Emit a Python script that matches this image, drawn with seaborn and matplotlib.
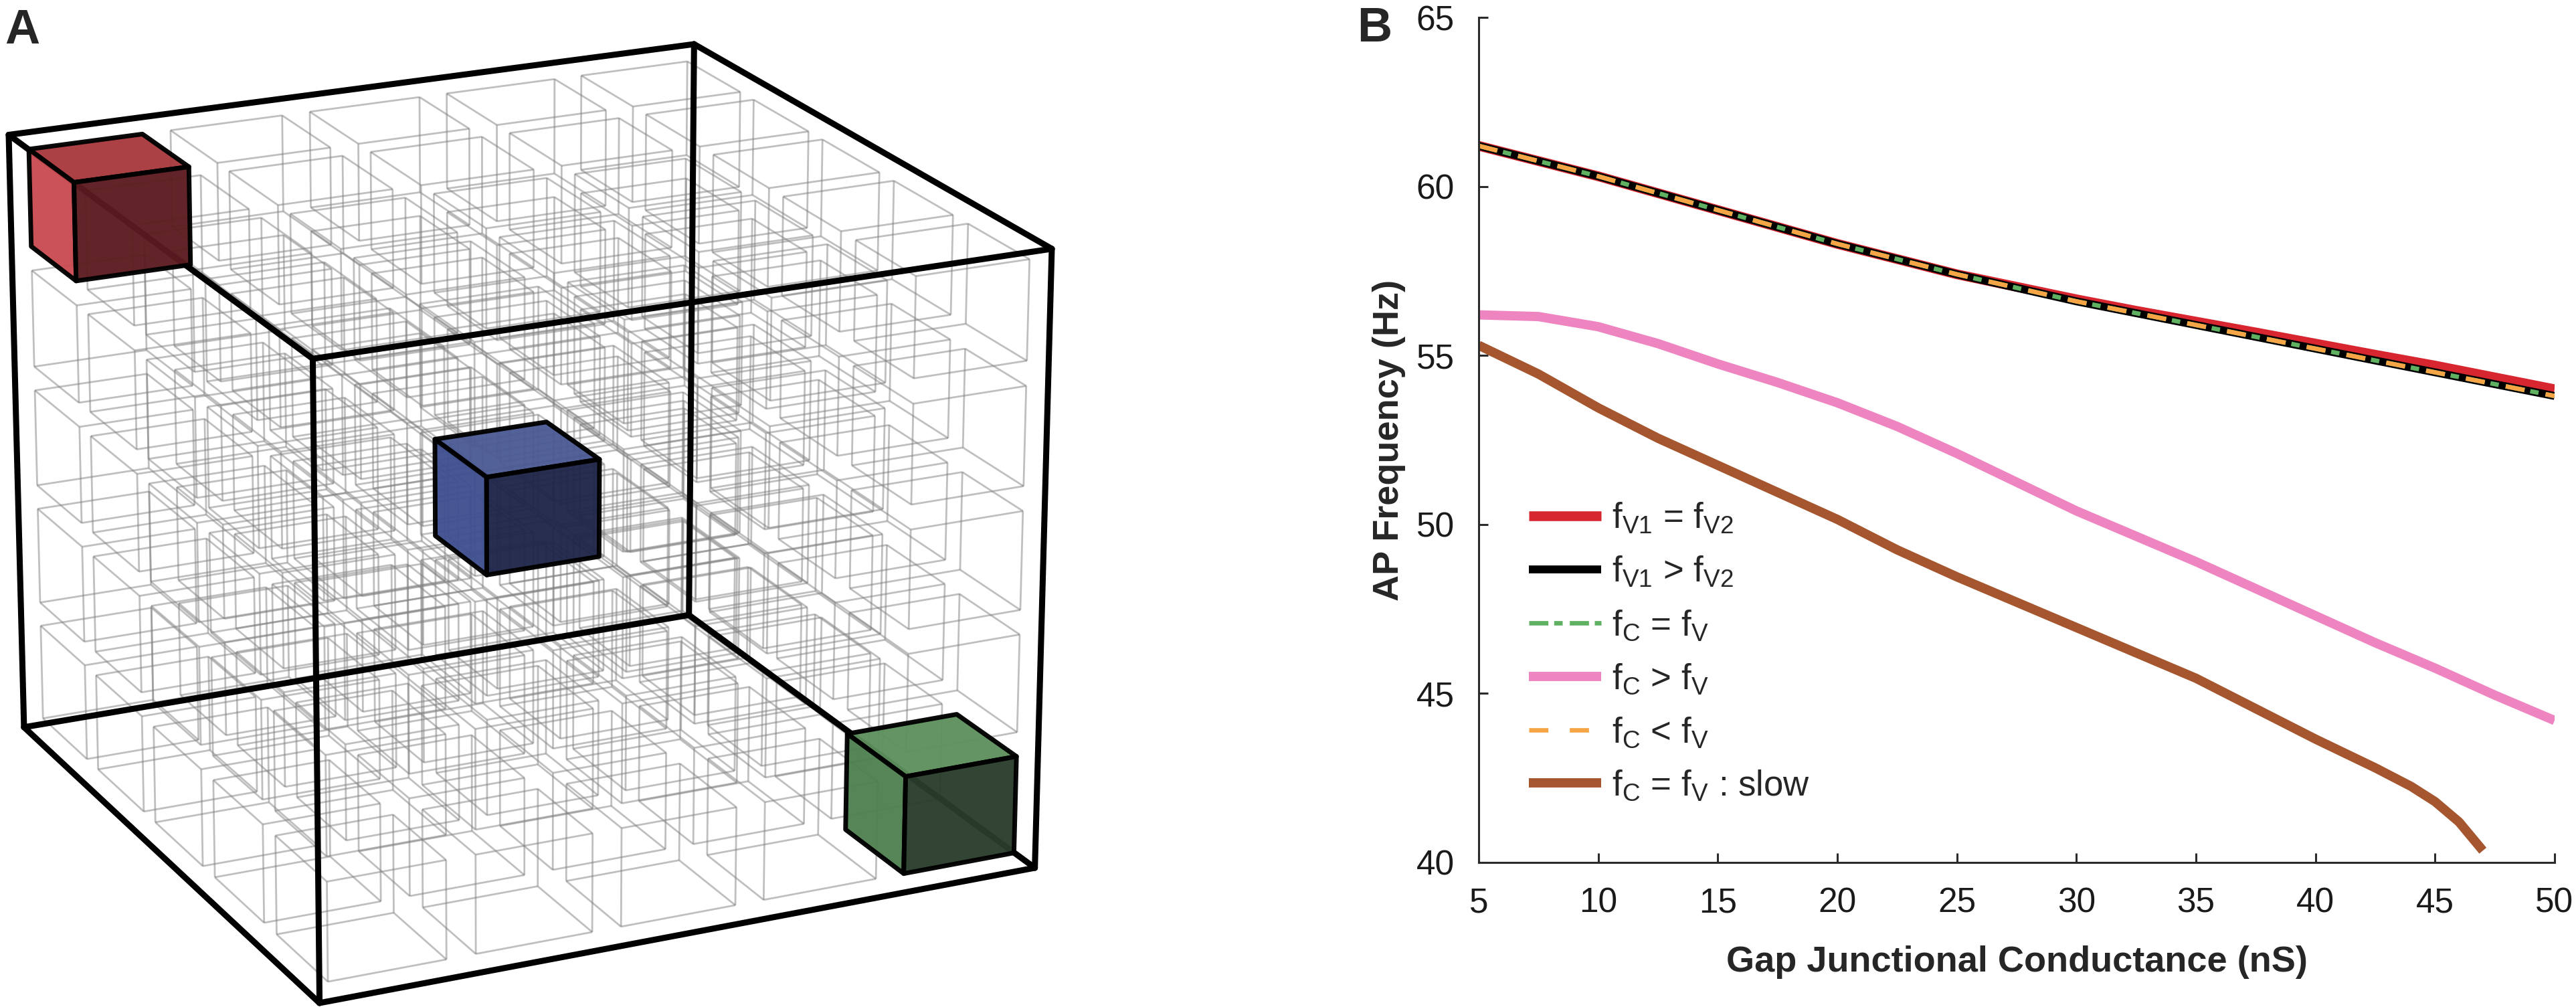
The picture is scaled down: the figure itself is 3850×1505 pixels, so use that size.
import numpy as np
import matplotlib
matplotlib.use("Agg")
import matplotlib.pyplot as plt
from matplotlib.collections import LineCollection, PolyCollection
import seaborn as sns

# ---------------- panel B data ----------------
gj = [5, 7.5, 10, 12.5, 15, 17.5, 20, 22.5, 25, 27.5, 30, 32.5, 35, 37.5, 40, 42.5, 45, 47.5, 50]
f_v1_eq_v2 = [61.2, 60.75, 60.3, 59.8, 59.3, 58.8, 58.3, 57.85, 57.4, 57.03, 56.66,
              56.32, 56.0, 55.68, 55.35, 55.02, 54.7, 54.35, 54.0]
f_v1_gt_v2 = [61.2, 60.75, 60.3, 59.8, 59.3, 58.8, 58.3, 57.85, 57.4, 57.0, 56.6,
              56.25, 55.9, 55.55, 55.2, 54.85, 54.5, 54.15, 53.8]
f_c_eq_v = list(f_v1_gt_v2)
f_c_lt_v = list(f_v1_gt_v2)
f_c_gt_v = [56.2, 56.15, 55.85, 55.35, 54.75, 54.2, 53.6, 52.9, 52.1, 51.25, 50.4,
            49.65, 48.9, 48.1, 47.3, 46.5, 45.75, 44.95, 44.2]
gj_slow = [5, 7.5, 10, 12.5, 15, 17.5, 20, 22.5, 25, 27.5, 30, 32.5, 35, 37.5, 40,
           42.5, 44, 45, 46, 47]
f_slow = [55.3, 54.45, 53.45, 52.55, 51.75, 50.95, 50.15, 49.25, 48.45, 47.7, 46.95,
          46.2, 45.45, 44.55, 43.65, 42.8, 42.25, 41.8, 41.2, 40.35]

x_ticks = [5, 10, 15, 20, 25, 30, 35, 40, 45, 50]
y_ticks = [40, 45, 50, 55, 60, 65]

# ---------------- panel A geometry (schematic lattice) ----------------
n_cells = 5            # cells per side
cube_frac = 0.8        # cube edge as fraction of the cell
box_height = 4.15      # box is 5 x 5 wide, this tall
azim_deg = 25.0
elev_deg = 19.9
cam_dist = 45.0
colored_cells = {(0, 4, 4): ('#a8393d', '#c94b51', '#5b1b1f'),   # top, left, front
                 (2, 2, 2): ('#4b5a93', '#3f5090', '#1f2548'),
                 (4, 0, 0): ('#5e905e', '#4f8151', '#293d2b')}

sns.set_theme(style="ticks")
plt.rcParams['font.family'] = ['Liberation Sans', 'DejaVu Sans']
plt.rcParams['mathtext.fontset'] = 'custom'
plt.rcParams['mathtext.rm'] = 'Liberation Sans'
plt.rcParams['mathtext.it'] = 'Liberation Sans:italic'

W, H = 3850, 1505
fig = plt.figure(figsize=(W / 100, H / 100), dpi=100)


def project(pts):
    pts = np.asarray(pts, dtype=float)
    a, e = np.radians(azim_deg), np.radians(elev_deg)
    center = np.array([n_cells / 2, n_cells / 2, box_height / 2])
    q = pts - center
    r = np.array([np.cos(a), -np.sin(a), 0.0])
    v = np.array([-np.sin(a) * np.cos(e), -np.cos(a) * np.cos(e), np.sin(e)])
    u = np.array([np.sin(a) * np.sin(e), np.cos(a) * np.sin(e), np.cos(e)])
    s = cam_dist / (cam_dist - q @ v)
    return np.column_stack([(q @ r) * s, (q @ u) * s])


def corners(lo, hi):
    return np.array([[x, y, z] for x in (lo[0], hi[0]) for y in (lo[1], hi[1]) for z in (lo[2], hi[2])])


# edges of a box as index pairs into corners()
EDGES = [(0, 1), (2, 3), (4, 5), (6, 7), (0, 2), (1, 3), (4, 6), (5, 7), (0, 4), (1, 5), (2, 6), (3, 7)]


def cell_box(i, j, k):
    dz = box_height / n_cells
    m = (1 - cube_frac) / 2
    lo = np.array([i + m, j + m, (k + m) * dz])
    hi = np.array([i + 1 - m, j + 1 - m, (k + 1 - m) * dz])
    return lo, hi


# ---------------- panel A ----------------
axA = fig.add_axes([13 / W, 1 - 1499 / H, (1572 - 13) / W, (1499 - 66) / H])
axA.set_axis_off()

wire = []
for i in range(n_cells):
    for j in range(n_cells):
        for k in range(n_cells):
            if (i, j, k) in colored_cells:
                continue
            c2 = project(corners(*cell_box(i, j, k)))
            wire.extend([[c2[p], c2[q]] for p, q in EDGES])
axA.add_collection(LineCollection(wire, colors='#808080', linewidths=2.0, alpha=0.5, clip_on=False))

outer = project(corners([0, 0, 0], [n_cells, n_cells, box_height]))
axA.add_collection(LineCollection([[outer[p], outer[q]] for p, q in EDGES], colors='black',
                                  linewidths=6.5, capstyle='round', joinstyle='round',
                                  clip_on=False, zorder=3))

for cell, (c_top, c_left, c_front) in colored_cells.items():
    lo, hi = cell_box(*cell)
    c2 = project(corners(lo, hi))
    top = c2[[1, 3, 7, 5]]      # z = hi
    left = c2[[0, 1, 3, 2]]     # x = lo
    front = c2[[0, 1, 5, 4]]    # y = lo
    axA.add_collection(PolyCollection([top, left, front], facecolors=[c_top, c_left, c_front],
                                      edgecolors='black', linewidths=5, joinstyle='round',
                                      alpha=0.96, clip_on=False, zorder=4))

axA.set_xlim(outer[:, 0].min(), outer[:, 0].max())
axA.set_ylim(outer[:, 1].min(), outer[:, 1].max())

# ---------------- panel B ----------------
axB = fig.add_axes([2210 / W, (H - 1289) / H, 1608 / W, 1263 / H])

sns.lineplot(x=gj, y=f_v1_eq_v2, ax=axB, color='#d7262f', lw=10.5, label=r'f$_{\mathrm{V1}}$ = f$_{\mathrm{V2}}$',
             solid_capstyle='butt', errorbar=None)
sns.lineplot(x=gj, y=f_v1_gt_v2, ax=axB, color='black', lw=8.5, label=r'f$_{\mathrm{V1}}$ > f$_{\mathrm{V2}}$',
             solid_capstyle='butt', errorbar=None)
sns.lineplot(x=gj, y=f_c_eq_v, ax=axB, color='#5fb060', lw=4.8, label=r'f$_{\mathrm{C}}$ = f$_{\mathrm{V}}$',
             linestyle=(0, (4.3, 1.3, 1.9, 1.6)), dash_capstyle='butt', errorbar=None)
sns.lineplot(x=gj, y=f_c_gt_v, ax=axB, color='#ee84c0', lw=10, label=r'f$_{\mathrm{C}}$ > f$_{\mathrm{V}}$',
             solid_capstyle='butt', errorbar=None)
sns.lineplot(x=gj, y=f_c_lt_v, ax=axB, color='#f5a546', lw=4.8, label=r'f$_{\mathrm{C}}$ < f$_{\mathrm{V}}$',
             linestyle=(0, (4.3, 4.8)), dash_capstyle='butt', errorbar=None)
sns.lineplot(x=gj_slow, y=f_slow, ax=axB, color='#a5562f', lw=10, label=r'f$_{\mathrm{C}}$ = f$_{\mathrm{V}}$ : slow',
             solid_capstyle='butt', errorbar=None)

axB.set_xlim(5, 50)
axB.set_ylim(40, 65)
axB.set_xticks(x_ticks)
axB.set_yticks(y_ticks)
sns.despine(ax=axB)
for side in ('left', 'bottom'):
    axB.spines[side].set_linewidth(2.2)
    axB.spines[side].set_color('#2b2b2b')
axB.tick_params(direction='in', length=10, width=2.2, color='#2b2b2b', pad=26,
                labelsize=37, labelcolor='#1a1a1a')

axB.set_xlabel('Gap Junctional Conductance (nS)', fontsize=39, fontweight='bold')
axB.set_ylabel('AP Frequency (Hz)', fontsize=39, fontweight='bold')
axB.xaxis.set_label_coords(0.5, (1289 - 1452) / 1263)
axB.xaxis.label.set_va('baseline')
axB.yaxis.set_label_coords((2076 - 2210) / 1608, 0.5)
axB.yaxis.label.set_va('center')

axB.legend(loc='center left', bbox_to_anchor=(0.0466, 0.249), frameon=False, fontsize=38,
           handlelength=2.05, handletextpad=0.3, labelspacing=0.55, borderaxespad=0, borderpad=0)

# panel letters
fig.text(7 / W, 1 - 65 / H, 'A', fontsize=52, fontweight='bold', va='baseline', ha='left')
fig.text(2028 / W, 1 - 62 / H, 'B', fontsize=52, fontweight='bold', va='baseline', ha='left')

fig.savefig('out.png', dpi=100, facecolor='white')
